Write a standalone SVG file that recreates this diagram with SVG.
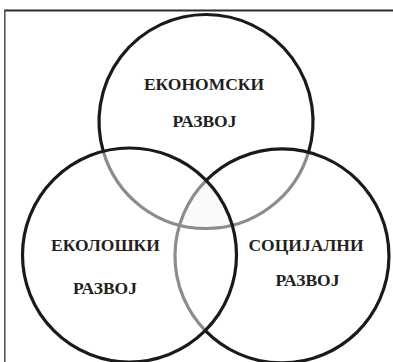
<svg xmlns="http://www.w3.org/2000/svg" width="393" height="362" viewBox="0 0 393 362">
<style>
.blk{fill:none;stroke:#1a1a1a;stroke-width:3.2}
.gry{fill:none;stroke:#8c8c8c;stroke-width:3.2}
.lbl{font-family:"Liberation Serif","DejaVu Serif",serif;font-weight:bold;font-size:17.5px;fill:#231f20;text-anchor:middle}
</style>
<rect width="393" height="362" fill="#ffffff"/>
<g id="frame">
<line x1="4" y1="10.5" x2="393" y2="10.5" stroke="#2b2b2b" stroke-width="2"/>
<line x1="4.8" y1="10" x2="4.8" y2="362" stroke="#555" stroke-width="1.6"/>
</g>
<path id="center" d="M206.2,180.4 A107,107 0 0 0 179.5,225.2 A107,107 0 0 0 232.25,225.2 A107,107 0 0 0 206.2,180.4 Z" fill="#fafafa"/>
<g id="economic">
<path class="blk" d="M103.25,151.3 A107,107 0 1 1 308.5,152.3"/>
<path class="gry" d="M103.25,151.3 A107,107 0 0 0 308.5,152.3"/>
<text class="lbl" x="204" y="89.5">ЕКОНОМСКИ</text>
<text class="lbl" x="204.5" y="127">РАЗВОЈ</text>
</g>
<g id="social">
<path class="blk" d="M206.2,180.4 A107,107 0 1 1 205.3,330.6"/>
<path class="gry" d="M206.2,180.4 A107,107 0 0 0 205.3,330.6"/>
<text class="lbl" x="306" y="251">СОЦИЈАЛНИ</text>
<text class="lbl" x="307.5" y="285.5">РАЗВОЈ</text>
</g>
<g id="ecological">
<circle class="blk" cx="129.5" cy="255" r="107"/>
<text class="lbl" x="105.5" y="250.5">ЕКОЛОШКИ</text>
<text class="lbl" x="105" y="293.5">РАЗВОЈ</text>
</g>
</svg>
